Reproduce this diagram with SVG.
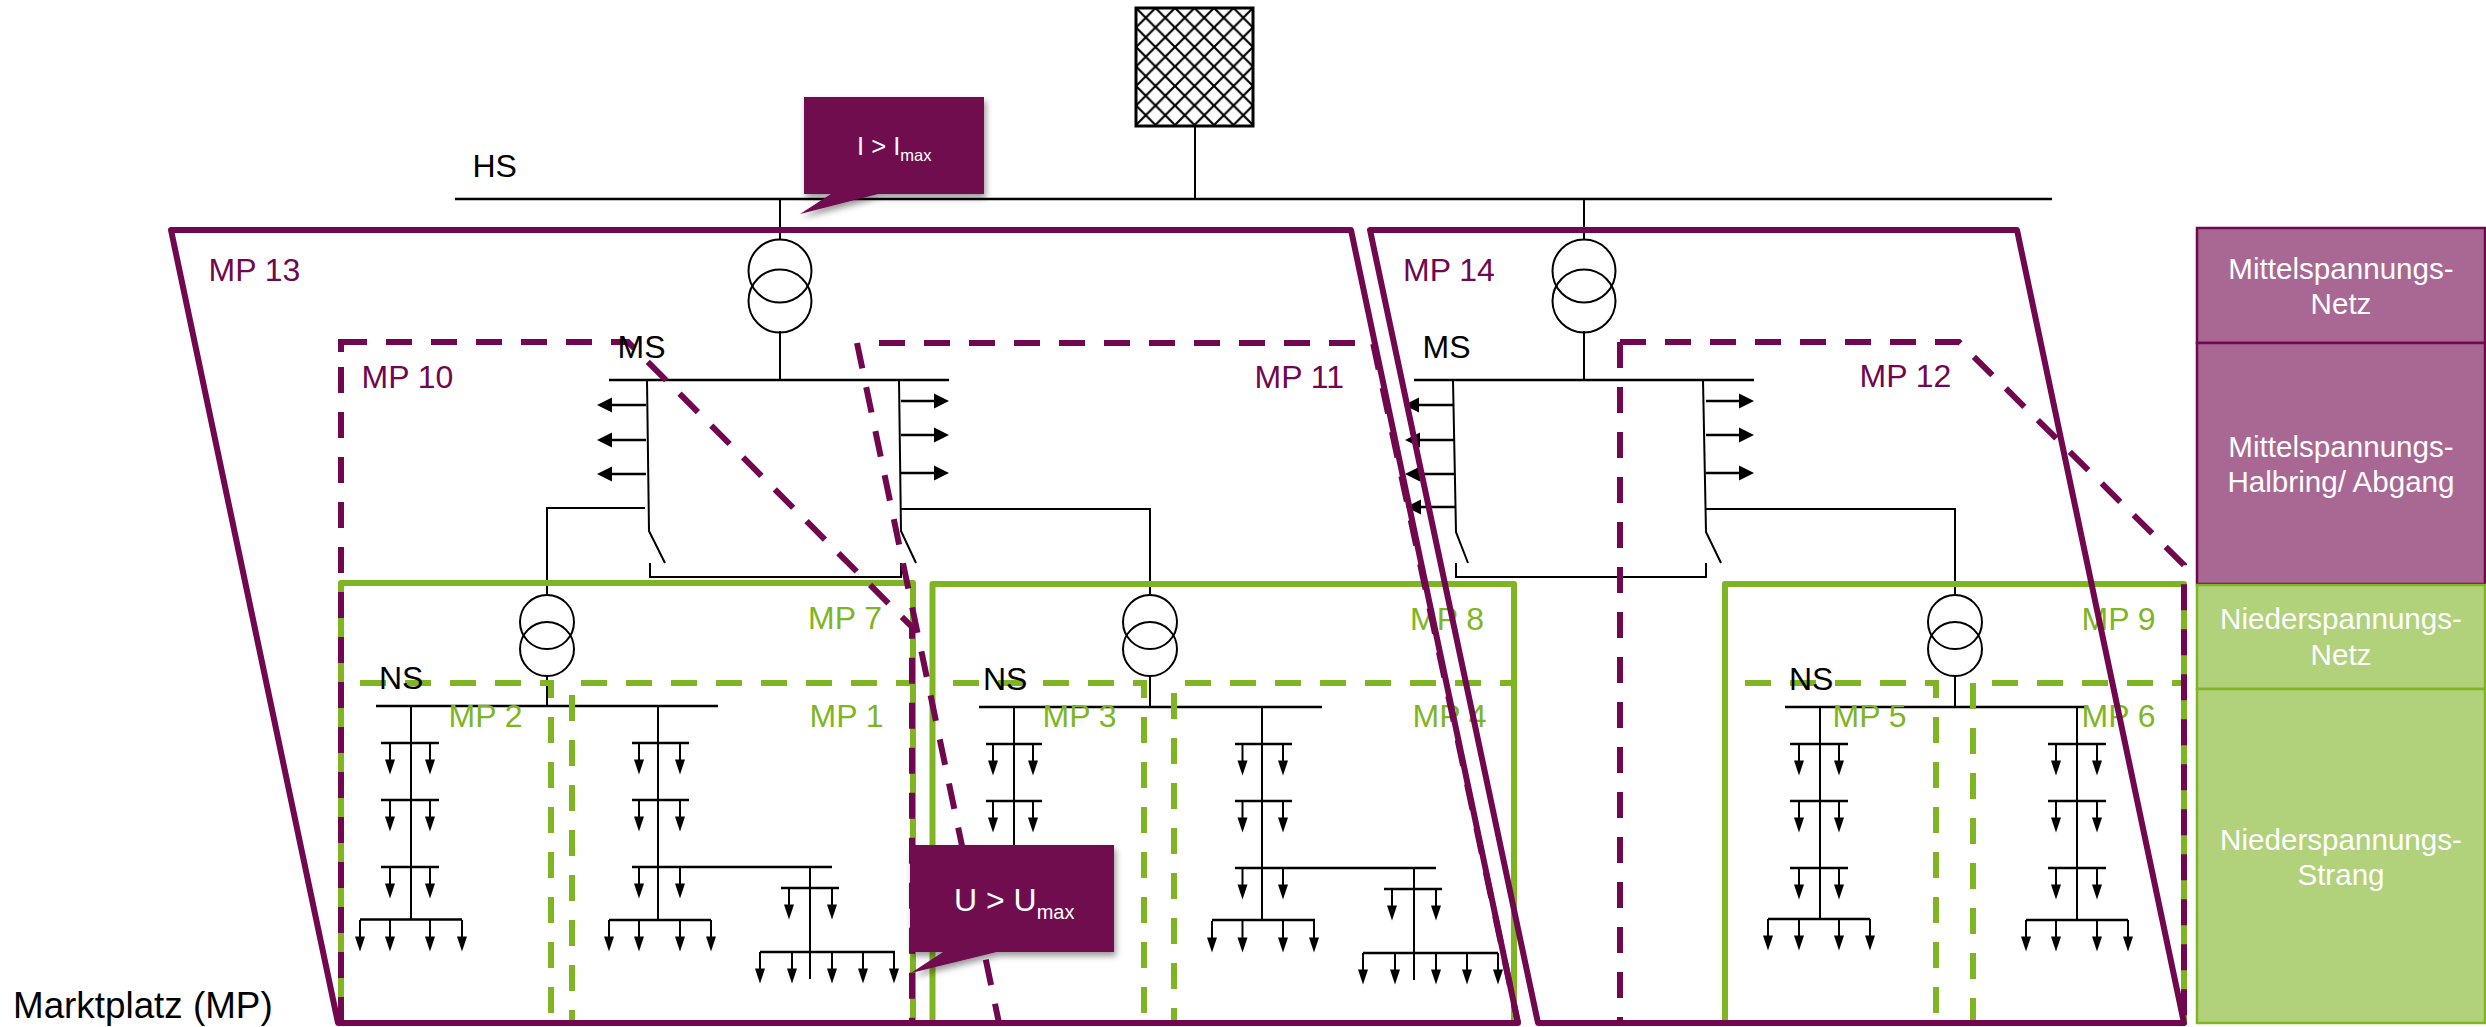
<svg xmlns="http://www.w3.org/2000/svg" width="2486" height="1027" viewBox="0 0 2486 1027">
<style>
text{font-family:"Liberation Sans",Arial,sans-serif}
.l{font-size:32px;fill:#000}
.p{font-size:32px;fill:#70074f}
.g{font-size:32px;fill:#7fb522}
.w{font-size:29.6px;fill:#fff;text-anchor:middle}
.t{fill:none;stroke:#000;stroke-width:2}
.b{fill:none;stroke:#000;stroke-width:2.5}
.sg{fill:none;stroke:#7fb522;stroke-width:6;stroke-linejoin:round}
.dg{fill:none;stroke:#7fb522;stroke-width:6;stroke-dasharray:26 19}
.sp{fill:none;stroke:#70074f;stroke-width:6;stroke-linejoin:round}
.dp{fill:none;stroke:#70074f;stroke-width:6;stroke-dasharray:26 19}
.pp{fill:#a96893;stroke:#70074f;stroke-width:2.5}
.pg{fill:#b1d27b;stroke:#7fb522;stroke-width:2.5}
.c{fill:#70074f;filter:url(#sh)}
</style>
<defs>
<filter id="sh" x="-20%" y="-20%" width="140%" height="150%"><feDropShadow dx="2" dy="4" stdDeviation="3" flood-color="#000" flood-opacity="0.4"/></filter>
<pattern id="hatch" x="1136" y="8" width="19.5" height="19.5" patternUnits="userSpaceOnUse"><path d="M0 0L19.5 19.5M19.5 0L0 19.5" fill="none" stroke="#000" stroke-width="2.2"/></pattern>
<g id="ad"><path d="M0 0V18" class="t"/><path d="M-5 16.500H5L0 31.500Z"/></g>
<g id="al"><path d="M0 0H-35" class="b"/><path d="M-34 -7.500V7.500L-49 0Z"/></g>
<g id="ar"><path d="M0 0H35" class="b"/><path d="M33 -7.500V7.500L48 0Z"/></g>
<g id="tr"><ellipse cx="0" cy="0" rx="31.500" ry="31.500" class="t"/><ellipse cx="0" cy="30" rx="31.500" ry="31.500" class="t"/></g>
<g id="trs"><circle cx="0" cy="0" r="27" class="t"/><circle cx="0" cy="27" r="27" class="t"/></g>
</defs>
<rect width="2486" height="1027" fill="#fff"/>

<g id="legend">
<g id="legend-mv-net"><rect class="pp" x="2197" y="228" width="288" height="115"/><text class="w" x="2341" y="279">Mittelspannungs-</text><text class="w" x="2341" y="314">Netz</text></g>
<g id="legend-mv-ring"><rect class="pp" x="2197" y="343" width="288" height="241"/><text class="w" x="2341" y="457">Mittelspannungs-</text><text class="w" x="2341" y="492">Halbring/ Abgang</text></g>
<g id="legend-lv-net"><rect class="pg" x="2197" y="585" width="288" height="104"/><text class="w" x="2341" y="629">Niederspannungs-</text><text class="w" x="2341" y="665">Netz</text></g>
<g id="legend-lv-strand"><rect class="pg" x="2197" y="689" width="288" height="334"/><text class="w" x="2341" y="850">Niederspannungs-</text><text class="w" x="2341" y="885">Strang</text></g>
</g>

<g id="connectors">
<path class="b" d="M455 199H2052"/>
<path class="t" d="M1195 126V199M780 199V239M780 331V380M1584 199V239M1584 331V380"/>
<path class="b" d="M609 380H949M1414 380H1754"/>
<g id="mv-left">
<path class="t" d="M647 380L649 531L665 563M899 380L901 531L916 563M650 563V577H901V563M645 508H547V595M901 509H1150V595"/>
<use href="#al" x="646" y="405"/><use href="#al" x="646" y="440"/><use href="#al" x="646" y="474"/>
<use href="#ar" x="901" y="401"/><use href="#ar" x="901" y="435"/><use href="#ar" x="901" y="473"/>
</g>
<g id="mv-right">
<path class="t" d="M1453 380L1456 532L1468 563M1703 380L1706 532L1721 563M1456 563V577H1706V563M1706 509H1955V595"/>
<use href="#al" x="1453" y="405" /><use href="#al" x="1454" y="440"/><use href="#al" x="1454" y="474"/><use href="#al" x="1455" y="507"/>
<use href="#ar" x="1706" y="401"/><use href="#ar" x="1706" y="435"/><use href="#ar" x="1706" y="473"/>
</g>
<g id="lv-1">
<path class="t" d="M547 675V706M411 706V919M658 706V919M810 867V979"/>
<path class="b" d="M376 706H718M381 743H439M381 800H439M381 867H439M360 919.500H462M632 743H689M632 800H689M632 867H832M609 920H711M781 888H839M760 952H895"/>
<use href="#ad" x="390" y="743"/><use href="#ad" x="430" y="743"/><use href="#ad" x="390" y="800"/><use href="#ad" x="430" y="800"/><use href="#ad" x="390" y="867"/><use href="#ad" x="430" y="867"/>
<use href="#ad" x="360" y="920"/><use href="#ad" x="390" y="920"/><use href="#ad" x="430" y="920"/><use href="#ad" x="462" y="920"/>
<use href="#ad" x="639" y="743"/><use href="#ad" x="680" y="743"/><use href="#ad" x="639" y="800"/><use href="#ad" x="680" y="800"/><use href="#ad" x="639" y="867"/><use href="#ad" x="680" y="867"/>
<use href="#ad" x="609" y="920"/><use href="#ad" x="639" y="920"/><use href="#ad" x="680" y="920"/><use href="#ad" x="711" y="920"/>
<use href="#ad" x="789" y="888"/><use href="#ad" x="832" y="888"/>
<use href="#ad" x="760" y="952"/><use href="#ad" x="792" y="952"/><use href="#ad" x="832" y="952"/><use href="#ad" x="863" y="952"/><use href="#ad" x="894" y="952"/>
</g>
<g id="lv-2">
<path class="t" d="M1150 675V707M1014 707V845M1262 707V920M1414 868V980"/>
<path class="b" d="M979 707H1322M986 744H1042M986 801H1042M1235 744H1292M1235 801H1292M1235 868H1436M1212 920H1315M1384 889H1442M1363 953H1498"/>
<use href="#ad" x="993" y="744"/><use href="#ad" x="1033" y="744"/><use href="#ad" x="993" y="801"/><use href="#ad" x="1033" y="801"/>
<use href="#ad" x="1242.500" y="744"/><use href="#ad" x="1283" y="744"/><use href="#ad" x="1242.500" y="801"/><use href="#ad" x="1283" y="801"/><use href="#ad" x="1242.500" y="868"/><use href="#ad" x="1283" y="868"/>
<use href="#ad" x="1212" y="921"/><use href="#ad" x="1242.500" y="921"/><use href="#ad" x="1283" y="921"/><use href="#ad" x="1314" y="921"/>
<use href="#ad" x="1392" y="889"/><use href="#ad" x="1436" y="889"/>
<use href="#ad" x="1363" y="953"/><use href="#ad" x="1395" y="953"/><use href="#ad" x="1436" y="953"/><use href="#ad" x="1467" y="953"/><use href="#ad" x="1498" y="953"/>
</g>
<g id="lv-3">
<path class="t" d="M1955 675V707M1820 707V919M2077 707V920"/>
<path class="b" d="M1785 707H2085M1790 744H1848M1790 801H1848M1790 868H1848M1768 919H1870M2048 744H2106M2048 801H2106M2048 868H2106M2026 920H2128"/>
<use href="#ad" x="1799" y="744"/><use href="#ad" x="1839" y="744"/><use href="#ad" x="1799" y="801"/><use href="#ad" x="1839" y="801"/><use href="#ad" x="1799" y="868"/><use href="#ad" x="1839" y="868"/>
<use href="#ad" x="1768" y="919"/><use href="#ad" x="1799" y="919"/><use href="#ad" x="1839" y="919"/><use href="#ad" x="1870" y="919"/>
<use href="#ad" x="2056" y="744"/><use href="#ad" x="2097" y="744"/><use href="#ad" x="2056" y="801"/><use href="#ad" x="2097" y="801"/><use href="#ad" x="2056" y="868"/><use href="#ad" x="2097" y="868"/>
<use href="#ad" x="2026" y="920"/><use href="#ad" x="2056" y="920"/><use href="#ad" x="2097" y="920"/><use href="#ad" x="2128" y="920"/>
</g>
</g>

<g id="grid-source"><rect x="1136" y="8" width="117" height="118" fill="#fff"/><rect x="1136" y="8" width="117" height="118" fill="url(#hatch)" stroke="#000" stroke-width="3"/></g>
<g id="transformer-hv-1"><use href="#tr" x="780" y="271"/></g>
<g id="transformer-hv-2"><use href="#tr" x="1584" y="271"/></g>
<g id="transformer-mv-1"><use href="#trs" x="547" y="622"/></g>
<g id="transformer-mv-2"><use href="#trs" x="1150" y="622"/></g>
<g id="transformer-mv-3"><use href="#trs" x="1955" y="622"/></g>

<g id="bus-labels-lower"><text class="l" x="472.500" y="177">HS</text></g>

<g id="mp-green">
<g id="mp7"><path class="sg" d="M341 583H913V1023H341Z"/><text class="g" x="808" y="629">MP 7</text></g>
<g id="mp8"><path class="sg" d="M932.500 584H1514V1023H932.500Z"/><text class="g" x="1410" y="630">MP 8</text></g>
<g id="mp9"><path class="sg" d="M1725 584H2184V1023H1725Z"/><text class="g" x="2081.500" y="630">MP 9</text></g>
<g id="mp2"><path class="dg" d="M360 683H551V1023"/><text class="g" x="448.500" y="727">MP 2</text></g>
<g id="mp1"><path class="dg" d="M572 695V1023M581 683H912"/><text class="g" x="809.500" y="727">MP 1</text></g>
<g id="mp3"><path class="dg" d="M953 683H1144V1023"/><text class="g" x="1042.500" y="727">MP 3</text></g>
<g id="mp4"><path class="dg" d="M1174 693V1023M1185 683H1514"/><text class="g" x="1412.500" y="727">MP 4</text></g>
<g id="mp5"><path class="dg" d="M1745 683H1936V1023"/><text class="g" x="1832.500" y="727">MP 5</text></g>
<g id="mp6"><path class="dg" d="M1973 683V1023M1992 683H2184"/><text class="g" x="2081.500" y="727">MP 6</text></g>
</g>

<g id="mp-purple">
<g id="mp10"><path class="dp" d="M341 342H628L912 627V1023"/><path class="dp" d="M341 367V1023"/><path class="sp" d="M341 352V339"/><text class="p" x="361.500" y="388">MP 10</text></g>
<g id="mp11"><path class="dp" d="M879 343H1373L1518 1023"/><path class="dp" d="M857 343L999 1023"/><text class="p" x="1254.500" y="388">MP 11</text></g>
<g id="mp12"><path class="dp" d="M1620 342H1959L2184 565V1023"/><path class="dp" d="M1620 342V1023"/><text class="p" x="1859.500" y="387">MP 12</text></g>
<g id="mp13"><path class="sp" d="M171 230H1351L1518 1023H338Z"/><text class="p" x="208.500" y="281">MP 13</text></g>
<g id="mp14"><path class="sp" d="M1370 230H2017L2184 1023H1538Z"/><text class="p" x="1403" y="281">MP 14</text></g>
</g>

<g id="bus-labels">
<text class="l" x="617.500" y="358">MS</text>
<text class="l" x="1422.500" y="358">MS</text>
<text class="l" x="379" y="689">NS</text>
<text class="l" x="983" y="690">NS</text>
<text class="l" x="1789" y="690">NS</text>
</g>

<g id="callout-current">
<path class="c" d="M804 97H984V194H878L800 214L831 194H804Z"/>
<text x="857" y="155" font-size="25.500" fill="#fff">I &gt; I<tspan font-size="16.500" dy="6">max</tspan></text>
</g>
<g id="callout-voltage">
<path class="c" d="M910 845H1114V952H996.500L911 973L943 952H910Z"/>
<text x="954" y="911" font-size="32" fill="#fff">U &gt; U<tspan font-size="20" dy="8">max</tspan></text>
</g>
<g id="title"><text x="13" y="1018" font-size="36.800" fill="#000">Marktplatz (MP)</text></g>
</svg>
